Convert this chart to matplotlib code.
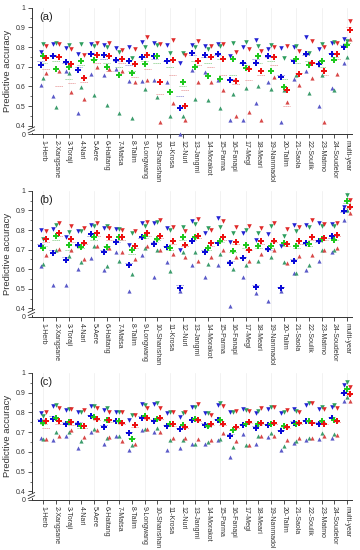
import matplotlib
matplotlib.use('Agg')
import matplotlib.pyplot as plt
import numpy as np

plt.rcParams['font.family'] = ['Liberation Sans', 'DejaVu Sans']

storms = ['1-Herb', '2-Xangsane', '3-Toraji', '4-Nari', '5-Aere', '6-Haitang',
          '7-Matsa', '8-Talim', '9-Longwang', '10-Shanshan', '11-Krosa', '12-Nuri',
          '13-Jangmi', '14-Morakot', '15-Parma', '16-Fanapi', '17-Megi', '18-Meari',
          '19-Nanmadol', '20-Talim', '21-Saola', '22-Soulik', '23-Matmo',
          '24-Soudelor', 'multi-year']

# ---- panel (a) ----
a_blue_max = [0.774, 0.815, 0.793, 0.766, 0.815, 0.812, 0.795, 0.80, 0.825, 0.82, 0.81, 0.72, 0.81,
              0.806, 0.815, 0.755, 0.80, 0.837, 0.79, 0.795, 0.798, 0.849, 0.79, 0.82, 0.84]
a_blue_mean = [0.708, 0.752, 0.725, 0.682, 0.764, 0.76, 0.733, 0.727, 0.749, 0.755, 0.73, 0.488, 0.77,
               0.76, 0.766, 0.633, 0.721, 0.721, 0.752, 0.65, 0.73, 0.764, 0.713, 0.766, 0.80]
a_blue_min = [0.606, 0.551, 0.68, 0.463, 0.665, 0.66, 0.69, 0.628, 0.625, 0.633, 0.62, 0.03, 0.684,
              0.675, 0.633, 0.43, 0.43, 0.517, 0.62, 0.42, 0.64, 0.68, 0.50, 0.59, 0.72]
a_blue_dash = [0.73, 0.76, 0.72, 0.70, 0.77, 0.74, 0.73, 0.71, 0.75, 0.74, 0.73, 0.55, 0.76,
               0.75, 0.76, 0.64, 0.72, 0.74, 0.75, 0.66, 0.74, 0.76, 0.72, 0.77, 0.81]
a_green_max = [0.813, 0.823, 0.811, 0.818, 0.803, 0.80, 0.775, 0.745, 0.798, 0.81, 0.77, 0.772, 0.80,
               0.79, 0.803, 0.82, 0.825, 0.803, 0.81, 0.743, 0.806, 0.772, 0.813, 0.825, 0.83]
a_green_mean = [0.752, 0.689, 0.701, 0.727, 0.735, 0.70, 0.656, 0.67, 0.715, 0.755, 0.573, 0.62, 0.70,
                0.655, 0.636, 0.738, 0.693, 0.752, 0.676, 0.596, 0.738, 0.71, 0.73, 0.735, 0.81]
a_green_min = [0.641, 0.494, 0.67, 0.596, 0.556, 0.505, 0.467, 0.437, 0.587, 0.545, 0.45, 0.45, 0.535,
               0.53, 0.488, 0.56, 0.59, 0.60, 0.587, 0.58, 0.66, 0.565, 0.66, 0.582, 0.75]
a_green_dash = [0.72, 0.73, 0.64, 0.71, 0.74, 0.72, 0.70, 0.68, 0.73, 0.72, 0.70, 0.60, 0.73,
                0.72, 0.74, 0.66, 0.71, 0.72, 0.73, 0.64, 0.72, 0.73, 0.70, 0.75, 0.82]
a_red_max = [0.806, 0.813, 0.79, 0.76, 0.82, 0.82, 0.787, 0.79, 0.851, 0.813, 0.837, 0.76, 0.83,
             0.806, 0.815, 0.777, 0.79, 0.78, 0.80, 0.806, 0.78, 0.832, 0.798, 0.82, 0.93]
a_red_mean = [0.743, 0.747, 0.715, 0.645, 0.76, 0.755, 0.738, 0.715, 0.76, 0.62, 0.735, 0.50, 0.727,
              0.749, 0.74, 0.628, 0.69, 0.676, 0.747, 0.582, 0.664, 0.72, 0.679, 0.764, 0.885]
a_red_min = [0.667, 0.679, 0.57, 0.534, 0.70, 0.69, 0.68, 0.62, 0.63, 0.42, 0.515, 0.43, 0.62,
             0.62, 0.58, 0.45, 0.47, 0.43, 0.65, 0.52, 0.607, 0.641, 0.417, 0.664, 0.84]
a_red_dash = [0.69, 0.60, 0.615, 0.62, 0.72, 0.68, 0.72, 0.65, 0.69, 0.56, 0.66, 0.58, 0.71,
              0.70, 0.66, 0.61, 0.63, 0.66, 0.71, 0.50, 0.67, 0.72, 0.66, 0.74, 0.90]

# ---- panel (b) ----
b_blue_max = [0.80, 0.804, 0.764, 0.796, 0.827, 0.81, 0.806, 0.724, 0.838, 0.835, 0.81, 0.70, 0.847,
              0.787, 0.86, 0.741, 0.784, 0.75, 0.779, 0.716, 0.827, 0.827, 0.835, 0.83, 0.92]
b_blue_mean = [0.716, 0.685, 0.646, 0.724, 0.779, 0.69, 0.738, 0.622, 0.762, 0.73, 0.714, 0.503, 0.745,
               0.69, 0.733, 0.634, 0.656, 0.507, 0.702, 0.503, 0.64, 0.733, 0.745, 0.767, 0.895]
b_blue_min = [0.614, 0.517, 0.52, 0.60, 0.656, 0.597, 0.687, 0.49, 0.673, 0.56, 0.636, 0.49, 0.62,
              0.558, 0.62, 0.41, 0.56, 0.48, 0.44, 0.49, 0.58, 0.597, 0.643, 0.69, 0.852]
b_blue_dash = [0.73, 0.70, 0.66, 0.72, 0.77, 0.70, 0.74, 0.63, 0.76, 0.74, 0.72, 0.52, 0.75,
               0.70, 0.74, 0.64, 0.66, 0.52, 0.70, 0.51, 0.65, 0.73, 0.74, 0.76, 0.89]
b_green_max = [0.755, 0.827, 0.79, 0.793, 0.82, 0.818, 0.804, 0.787, 0.821, 0.84, 0.80, 0.813, 0.83,
               0.81, 0.813, 0.784, 0.80, 0.787, 0.818, 0.772, 0.796, 0.813, 0.823, 0.818, 0.98]
b_green_mean = [0.707, 0.767, 0.724, 0.713, 0.762, 0.713, 0.764, 0.70, 0.772, 0.755, 0.707, 0.764, 0.764,
                0.707, 0.745, 0.694, 0.724, 0.716, 0.716, 0.733, 0.721, 0.728, 0.755, 0.75, 0.95]
b_green_min = [0.628, 0.70, 0.667, 0.636, 0.716, 0.614, 0.64, 0.575, 0.707, 0.70, 0.592, 0.69, 0.69,
               0.628, 0.68, 0.60, 0.62, 0.64, 0.66, 0.636, 0.583, 0.619, 0.70, 0.70, 0.90]
b_green_dash = [0.72, 0.75, 0.70, 0.71, 0.75, 0.72, 0.75, 0.68, 0.76, 0.75, 0.70, 0.75, 0.76,
                0.70, 0.74, 0.69, 0.71, 0.71, 0.71, 0.72, 0.71, 0.72, 0.75, 0.75, 0.94]
b_red_max = [0.796, 0.835, 0.818, 0.81, 0.838, 0.81, 0.80, 0.793, 0.843, 0.849, 0.813, 0.793, 0.855,
             0.80, 0.847, 0.815, 0.82, 0.81, 0.835, 0.806, 0.813, 0.852, 0.83, 0.838, 0.954]
b_red_mean = [0.755, 0.787, 0.755, 0.733, 0.784, 0.764, 0.764, 0.72, 0.784, 0.77, 0.745, 0.724, 0.772,
              0.733, 0.762, 0.74, 0.70, 0.742, 0.745, 0.728, 0.745, 0.762, 0.758, 0.776, 0.92]
b_red_min = [0.67, 0.704, 0.70, 0.653, 0.72, 0.707, 0.687, 0.65, 0.72, 0.70, 0.677, 0.66, 0.643,
             0.66, 0.70, 0.66, 0.64, 0.68, 0.70, 0.63, 0.665, 0.673, 0.70, 0.71, 0.886]
b_red_dash = [0.74, 0.77, 0.74, 0.73, 0.77, 0.75, 0.75, 0.71, 0.77, 0.76, 0.73, 0.72, 0.76,
              0.72, 0.75, 0.73, 0.70, 0.73, 0.74, 0.72, 0.73, 0.75, 0.75, 0.77, 0.91]

# ---- panel (c) ----
c_blue_max = [0.795, 0.834, 0.812, 0.80, 0.834, 0.812, 0.80, 0.76, 0.843, 0.841, 0.795, 0.778, 0.826,
              0.798, 0.838, 0.80, 0.816, 0.795, 0.817, 0.798, 0.816, 0.838, 0.816, 0.826, 0.941]
c_blue_mean = [0.755, 0.769, 0.743, 0.743, 0.781, 0.726, 0.755, 0.695, 0.774, 0.755, 0.729, 0.714, 0.76,
               0.738, 0.76, 0.679, 0.734, 0.722, 0.734, 0.705, 0.748, 0.755, 0.743, 0.772, 0.898]
c_blue_min = [0.671, 0.66, 0.683, 0.622, 0.70, 0.64, 0.681, 0.609, 0.709, 0.703, 0.609, 0.62, 0.64,
              0.64, 0.662, 0.574, 0.691, 0.64, 0.674, 0.609, 0.645, 0.662, 0.664, 0.671, 0.86]
c_blue_dash = [0.766, 0.78, 0.75, 0.75, 0.785, 0.735, 0.76, 0.70, 0.78, 0.76, 0.735, 0.72, 0.765,
               0.745, 0.765, 0.69, 0.74, 0.73, 0.74, 0.71, 0.755, 0.76, 0.75, 0.775, 0.90]
c_green_max = [0.783, 0.838, 0.815, 0.803, 0.834, 0.821, 0.80, 0.786, 0.838, 0.847, 0.803, 0.795, 0.829,
               0.795, 0.847, 0.803, 0.812, 0.809, 0.829, 0.803, 0.809, 0.847, 0.826, 0.838, 0.953]
c_green_mean = [0.748, 0.774, 0.752, 0.731, 0.778, 0.764, 0.755, 0.666, 0.781, 0.769, 0.74, 0.738, 0.769,
                0.729, 0.76, 0.712, 0.743, 0.74, 0.743, 0.729, 0.743, 0.755, 0.757, 0.764, 0.916]
c_green_min = [0.666, 0.70, 0.703, 0.657, 0.717, 0.671, 0.681, 0.634, 0.717, 0.721, 0.662, 0.66, 0.64,
               0.652, 0.666, 0.626, 0.636, 0.683, 0.695, 0.631, 0.657, 0.669, 0.695, 0.691, 0.878]
c_green_dash = [0.743, 0.765, 0.745, 0.72, 0.77, 0.755, 0.75, 0.67, 0.775, 0.765, 0.735, 0.73, 0.765,
                0.725, 0.755, 0.71, 0.74, 0.735, 0.74, 0.725, 0.74, 0.75, 0.75, 0.76, 0.91]
c_red_max = [0.80, 0.824, 0.815, 0.812, 0.824, 0.80, 0.80, 0.786, 0.824, 0.824, 0.803, 0.80, 0.841,
             0.786, 0.834, 0.809, 0.807, 0.821, 0.826, 0.812, 0.803, 0.847, 0.817, 0.824, 0.929]
c_red_mean = [0.757, 0.757, 0.752, 0.731, 0.769, 0.76, 0.748, 0.738, 0.774, 0.772, 0.74, 0.726, 0.764,
              0.743, 0.743, 0.726, 0.752, 0.748, 0.748, 0.726, 0.748, 0.748, 0.743, 0.755, 0.893]
c_red_min = [0.664, 0.683, 0.712, 0.678, 0.709, 0.678, 0.657, 0.64, 0.714, 0.703, 0.671, 0.67, 0.666,
             0.662, 0.695, 0.657, 0.634, 0.683, 0.683, 0.662, 0.671, 0.671, 0.679, 0.688, 0.86]
c_red_dash = [0.72, 0.74, 0.735, 0.72, 0.76, 0.75, 0.74, 0.725, 0.765, 0.765, 0.73, 0.72, 0.755,
              0.735, 0.735, 0.72, 0.745, 0.74, 0.74, 0.72, 0.74, 0.745, 0.74, 0.75, 0.89]

offsets = [-0.22, 0.0, 0.22]
# (down-triangle, mean, up-triangle, dashed) colours for blue / green / red
palette = [('#2323d4', '#0a0ad8', '#5a5ac8', '#8c8cd8'),
           ('#2e9e5e', '#1ec81e', '#3c9c6c', '#8cd08c'),
           ('#e02a2a', '#ec1010', '#d84848', '#e89a9a')]


# broken y axis: 0..0.4 squeezed into a short stub below 0.4
def fwd(y):
    y = np.asarray(y, dtype=float)
    return np.where(y >= 0.4, y, 0.357 + y * 0.1075)


def inv(z):
    z = np.asarray(z, dtype=float)
    return np.where(z >= 0.4, z, (z - 0.357) / 0.1075)


def draw_panel(ax, tag, series):
    x = np.arange(1, len(storms) + 1)
    for k in x[::2]:
        ax.axvline(k, color='#ededed', lw=0.5, zorder=0)
    for off, (vmax, vmean, vmin, vdash), (c_dn, c_mean, c_up, c_dash) in zip(offsets, series, palette):
        xs = x + off
        ax.hlines(vdash, xs - 0.3, xs + 0.3, colors=c_dash, linestyles=(0, (1.2, 0.9)), lw=0.7, zorder=1)
        ax.plot(xs, vmax, 'v', color=c_dn, ms=3.3, mew=0, zorder=3)
        ax.plot(xs, vmin, '^', color=c_up, ms=3.0, mew=0, zorder=3, clip_on=False)
        ax.plot(xs, vmean, 'P', color=c_mean, ms=3.8, mew=0, zorder=4)

    ax.set_yscale('function', functions=(fwd, inv))
    ax.set_ylim(0, 1.0)
    ax.set_xlim(0.11, 25.4)
    ax.set_yticks([0, 0.4, 0.5, 0.6, 0.7, 0.8, 0.9, 1.0])
    ax.set_yticklabels(['0', '0.4', '0.5', '0.6', '0.7', '0.8', '0.9', '1'])
    ax.set_yticks([0.45, 0.55, 0.65, 0.75, 0.85, 0.95], minor=True)
    ax.set_xticks(x)
    ax.set_xticklabels(storms, rotation=270, fontsize=5, va='top', ha='center')
    ax.tick_params(axis='both', which='major', direction='out', length=3, width=0.6,
                   labelsize=5, pad=1.5, colors='#333333')
    ax.tick_params(axis='y', which='minor', direction='out', length=1.6, width=0.5, colors='#333333')
    for s in ['top', 'right']:
        ax.spines[s].set_visible(False)
    for s in ['left', 'bottom']:
        ax.spines[s].set_color('#333333')
        ax.spines[s].set_linewidth(0.7)
    ax.set_ylabel('Predictive accuracy', fontsize=6.8, color='#333333')
    ax.yaxis.set_label_coords(-0.064, 0.5)
    ax.text(0.022, 0.93, tag, transform=ax.transAxes, fontsize=8, color='#222222', va='center')

    # break marks on the y axis
    ax.add_patch(plt.Rectangle((-0.006, 0.02), 0.012, 0.03, transform=ax.transAxes,
                               color='white', clip_on=False, zorder=6))
    for yb in (0.022, 0.046):
        ax.plot([-0.012, 0.008], [yb - 0.012, yb + 0.012], transform=ax.transAxes,
                color='#333333', lw=0.6, clip_on=False, zorder=7)


fig = plt.figure(figsize=(3.6, 5.5), dpi=100)
ax_a = fig.add_axes([0.089, 0.756, 0.889, 0.230])
ax_b = fig.add_axes([0.089, 0.424, 0.889, 0.229])
ax_c = fig.add_axes([0.089, 0.091, 0.889, 0.231])

draw_panel(ax_a, '(a)', [(a_blue_max, a_blue_mean, a_blue_min, a_blue_dash),
                         (a_green_max, a_green_mean, a_green_min, a_green_dash),
                         (a_red_max, a_red_mean, a_red_min, a_red_dash)])
draw_panel(ax_b, '(b)', [(b_blue_max, b_blue_mean, b_blue_min, b_blue_dash),
                         (b_green_max, b_green_mean, b_green_min, b_green_dash),
                         (b_red_max, b_red_mean, b_red_min, b_red_dash)])
draw_panel(ax_c, '(c)', [(c_blue_max, c_blue_mean, c_blue_min, c_blue_dash),
                         (c_green_max, c_green_mean, c_green_min, c_green_dash),
                         (c_red_max, c_red_mean, c_red_min, c_red_dash)])

fig.savefig('out.png', dpi=100)
